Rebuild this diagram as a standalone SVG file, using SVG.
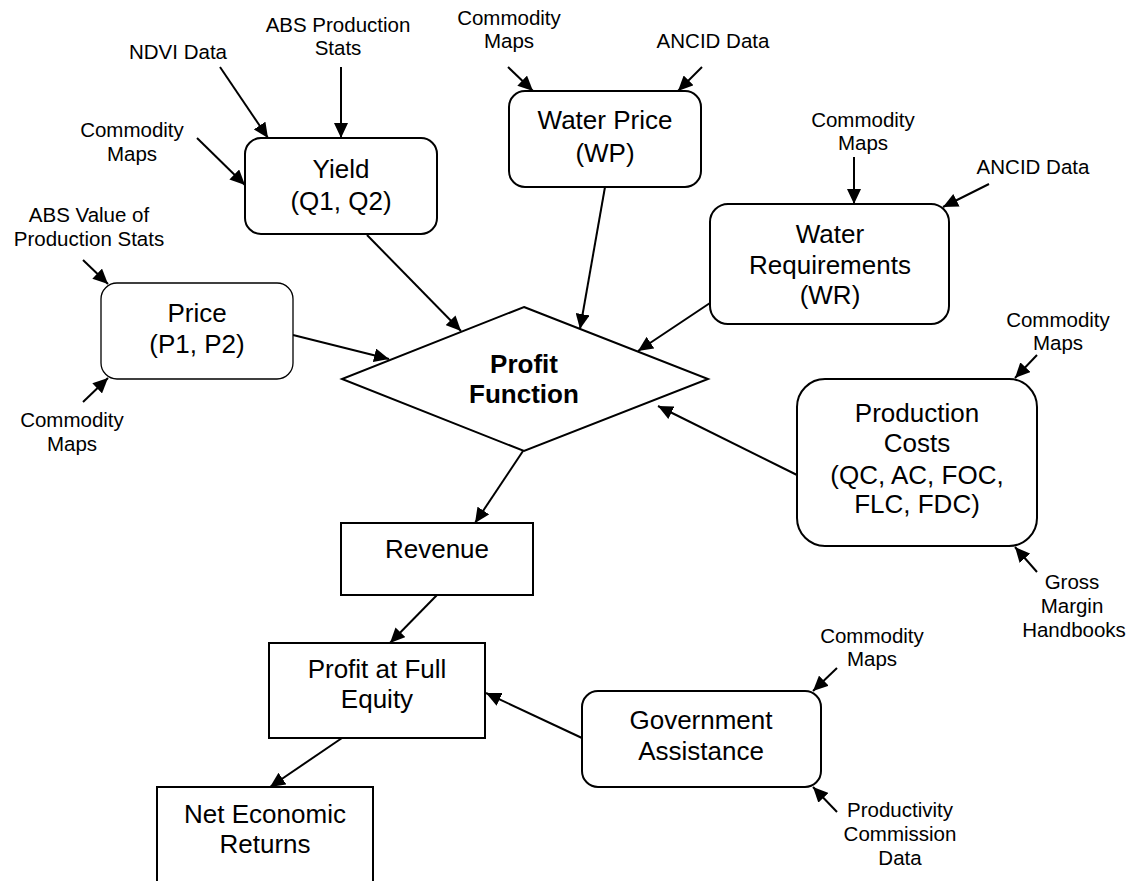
<svg xmlns="http://www.w3.org/2000/svg" width="1130" height="881" viewBox="0 0 1130 881">
<defs>
<marker id="ah" markerUnits="userSpaceOnUse" markerWidth="16" markerHeight="14" refX="15" refY="7" orient="auto">
<path d="M0,0 L15,7 L0,14 z" fill="#000"/>
</marker>
<style>
.box{fill:#fff;stroke:#000;stroke-width:2}
.thin{fill:#fff;stroke:#000;stroke-width:1.3}
.big{font-family:"Liberation Sans",Arial,sans-serif;font-size:26px;text-anchor:middle;fill:#000}
.bold{font-family:"Liberation Sans",Arial,sans-serif;font-size:26px;font-weight:bold;text-anchor:middle;fill:#000}
.sm{font-family:"Liberation Sans",Arial,sans-serif;font-size:20.5px;text-anchor:middle;fill:#000}
.c{fill:none;stroke:#000;stroke-width:2;marker-end:url(#ah)}
</style>
</defs>
<rect width="1130" height="881" fill="#fff"/>

<g id="connectors">
<line class="c" x1="341" y1="67" x2="341" y2="138"/>
<line class="c" x1="220" y1="67" x2="268" y2="138"/>
<line class="c" x1="197" y1="138" x2="245" y2="185"/>
<line class="c" x1="83" y1="260" x2="108" y2="284"/>
<line class="c" x1="83" y1="402" x2="108" y2="378"/>
<line class="c" x1="508" y1="67" x2="533" y2="91"/>
<line class="c" x1="702" y1="67" x2="678" y2="91"/>
<line class="c" x1="854" y1="157" x2="854" y2="204"/>
<line class="c" x1="989" y1="184" x2="943" y2="207"/>
<line class="c" x1="1037" y1="355" x2="1015" y2="378"/>
<line class="c" x1="1037" y1="572" x2="1015" y2="547"/>
<line class="c" x1="837" y1="668" x2="813" y2="691"/>
<line class="c" x1="837" y1="812" x2="813" y2="787"/>
<line class="c" x1="367" y1="235" x2="461" y2="331"/>
<line class="c" x1="605" y1="187" x2="580" y2="329"/>
<line class="c" x1="710" y1="303" x2="638" y2="351"/>
<line class="c" x1="797" y1="475" x2="658" y2="406"/>
<line class="c" x1="293" y1="335" x2="389" y2="359"/>
<line class="c" x1="523" y1="451" x2="475" y2="523"/>
<line class="c" x1="437" y1="595" x2="390" y2="643"/>
<line class="c" x1="582" y1="738" x2="486" y2="693"/>
<line class="c" x1="342" y1="738" x2="270" y2="787"/>
</g>

<g id="labels">
<text class="sm" x="338" y="32">ABS Production</text>
<text class="sm" x="338" y="55">Stats</text>
<text class="sm" x="178" y="59">NDVI Data</text>
<text class="sm" x="132" y="137">Commodity</text>
<text class="sm" x="132" y="161">Maps</text>
<text class="sm" x="89" y="222">ABS Value of</text>
<text class="sm" x="89" y="246">Production Stats</text>
<text class="sm" x="72" y="427">Commodity</text>
<text class="sm" x="72" y="451">Maps</text>
<text class="sm" x="509" y="25">Commodity</text>
<text class="sm" x="509" y="48">Maps</text>
<text class="sm" x="713" y="48">ANCID Data</text>
<text class="sm" x="863" y="127">Commodity</text>
<text class="sm" x="863" y="150">Maps</text>
<text class="sm" x="1033" y="174">ANCID Data</text>
<text class="sm" x="1058" y="327">Commodity</text>
<text class="sm" x="1058" y="350">Maps</text>
<text class="sm" x="1072" y="589">Gross</text>
<text class="sm" x="1072" y="613">Margin</text>
<text class="sm" x="1074" y="637">Handbooks</text>
<text class="sm" x="872" y="643">Commodity</text>
<text class="sm" x="872" y="666">Maps</text>
<text class="sm" x="900" y="817">Productivity</text>
<text class="sm" x="900" y="841">Commission</text>
<text class="sm" x="900" y="865">Data</text>
</g>

<g id="yield">
<rect class="box" x="245" y="138" width="192" height="96" rx="16"/>
<text class="big" x="341" y="178">Yield</text>
<text class="big" x="341" y="210">(Q1, Q2)</text>
</g>
<g id="price">
<rect class="thin" x="101" y="283" width="192" height="96" rx="16"/>
<text class="big" x="197" y="322">Price</text>
<text class="big" x="197" y="353">(P1, P2)</text>
</g>
<g id="water-price">
<rect class="box" x="509" y="91" width="192" height="96" rx="16"/>
<text class="big" x="605" y="129">Water Price</text>
<text class="big" x="605" y="162">(WP)</text>
</g>
<g id="water-requirements">
<rect class="box" x="710" y="204" width="239" height="120" rx="18"/>
<text class="big" x="830" y="243">Water</text>
<text class="big" x="830" y="274">Requirements</text>
<text class="big" x="830" y="304">(WR)</text>
</g>
<g id="profit-function">
<polygon class="box" points="524,307 708,379 524,451 342,379"/>
<text class="bold" x="524" y="373">Profit</text>
<text class="bold" x="524" y="403">Function</text>
</g>
<g id="production-costs">
<rect class="box" x="797" y="379" width="240" height="167" rx="28"/>
<text class="big" x="917" y="422">Production</text>
<text class="big" x="917" y="452">Costs</text>
<text class="big" x="917" y="484">(QC, AC, FOC,</text>
<text class="big" x="917" y="513">FLC, FDC)</text>
</g>
<g id="revenue">
<rect class="box" x="341" y="523" width="192" height="72"/>
<text class="big" x="437" y="558">Revenue</text>
</g>
<g id="profit-full-equity">
<rect class="box" x="269" y="643" width="216" height="95"/>
<text class="big" x="377" y="678">Profit at Full</text>
<text class="big" x="377" y="708">Equity</text>
</g>
<g id="government-assistance">
<rect class="box" x="582" y="691" width="239" height="96" rx="16"/>
<text class="big" x="701" y="729">Government</text>
<text class="big" x="701" y="760">Assistance</text>
</g>
<g id="net-economic-returns">
<rect class="box" x="157" y="787" width="216" height="110"/>
<text class="big" x="265" y="823">Net Economic</text>
<text class="big" x="265" y="853">Returns</text>
</g>
</svg>
